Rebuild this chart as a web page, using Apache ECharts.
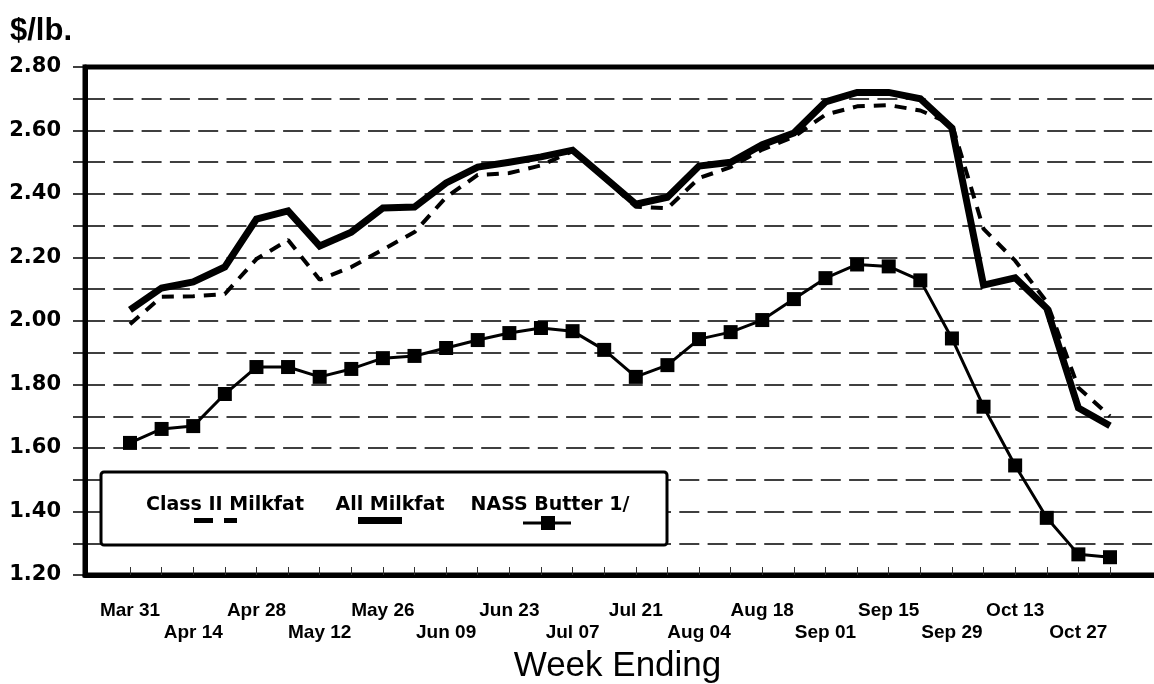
<!DOCTYPE html>
<html>
<head>
<meta charset="utf-8">
<script src="https://cdn.jsdelivr.net/npm/echarts@6/dist/echarts.min.js"></script>
<style>
  html, body { margin: 0; padding: 0; background: #fff; }
  #chart { width: 1154px; height: 684px; }
</style>
</head>
<body>
<div id="chart"></div>
<script>
// week ending dates (weekly)
const weeks = ['Mar 31', 'Apr 07', 'Apr 14', 'Apr 21', 'Apr 28', 'May 05', 'May 12', 'May 19',
  'May 26', 'Jun 02', 'Jun 09', 'Jun 16', 'Jun 23', 'Jun 30', 'Jul 07', 'Jul 14',
  'Jul 21', 'Jul 28', 'Aug 04', 'Aug 11', 'Aug 18', 'Aug 25', 'Sep 01', 'Sep 08',
  'Sep 15', 'Sep 22', 'Sep 29', 'Oct 06', 'Oct 13', 'Oct 20', 'Oct 27', 'Nov 03'];

const class2Milkfat = [1.99, 2.076, 2.078, 2.085, 2.195, 2.255, 2.13, 2.17,
  2.225, 2.28, 2.39, 2.46, 2.466, 2.49, 2.535, 2.45,
  2.36, 2.355, 2.45, 2.485, 2.54, 2.58, 2.65, 2.676,
  2.68, 2.663, 2.62, 2.29, 2.19, 2.06, 1.79, 1.70];

const allMilkfat = [2.035, 2.104, 2.123, 2.17, 2.321, 2.347, 2.236, 2.28,
  2.356, 2.359, 2.435, 2.485, 2.50, 2.517, 2.538, 2.453,
  2.368, 2.39, 2.488, 2.50, 2.555, 2.592, 2.69, 2.72,
  2.72, 2.70, 2.608, 2.113, 2.136, 2.04, 1.726, 1.67];

const nassButter = [1.616, 1.66, 1.669, 1.77, 1.855, 1.855, 1.824, 1.849,
  1.883, 1.89, 1.915, 1.94, 1.962, 1.978, 1.968, 1.909,
  1.824, 1.861, 1.943, 1.965, 2.003, 2.069, 2.135, 2.178,
  2.172, 2.128, 1.945, 1.73, 1.545, 1.38, 1.265, 1.256];

const seriesNames = ['Class II Milkfat', 'All Milkfat', 'NASS Butter 1/'];

// ticks on every week, labels on every other week
const tickIdx = weeks.map((w, i) => i);
const labelIdx = tickIdx.filter(i => i % 2 === 0 && i < 31);

const toPairs = arr => arr.map((v, i) => [i, v]);

const chart = echarts.init(document.getElementById('chart'));

const boldSans = 'Liberation Sans, Arial, sans-serif';
const wideBold = 'DejaVu Sans, sans-serif';

chart.setOption({
  backgroundColor: '#fff',
  animation: false,
  title: {
    text: '$/lb.',
    left: 5,
    top: 11,
    textStyle: { fontFamily: boldSans, fontWeight: 'bold', fontSize: 31, color: '#000' }
  },
  grid: {
    left: 85, top: 67, right: -8, bottom: 109,
    outerBoundsMode: 'none',
    containLabel: false,
    show: true, borderColor: '#000', borderWidth: 5, backgroundColor: 'transparent'
  },
  xAxis: {
    type: 'value',
    min: -1.4235,
    max: 32.645,
    name: 'Week Ending',
    nameLocation: 'middle',
    nameGap: 73,
    nameTextStyle: { fontFamily: boldSans, fontSize: 35, color: '#000', padding: [0, 12, 0, 0] },
    axisLine: { onZero: false, lineStyle: { color: '#000', width: 5 } },
    axisTick: {
      customValues: tickIdx,
      inside: true, length: 8,
      lineStyle: { color: '#333', width: 1 }
    },
    axisLabel: {
      customValues: labelIdx,
      margin: 25,
      fontFamily: boldSans, fontWeight: 'bold', fontSize: 19, color: '#000',
      lineHeight: 22,
      formatter: v => {
        const i = Math.round(v);
        return i % 4 === 0 ? weeks[i] + '\n ' : ' \n' + weeks[i];
      }
    },
    splitLine: { show: false }
  },
  yAxis: {
    type: 'value',
    min: 1.2, max: 2.8, interval: 0.1,
    axisLine: { show: true, onZero: false, lineStyle: { color: '#000', width: 5 } },
    axisTick: { show: true, length: 12, lineStyle: { color: '#000', width: 1.5 } },
    axisLabel: {
      margin: 24,
      fontFamily: wideBold, fontWeight: 'bold', fontSize: 21, color: '#000',
      formatter: v => (Math.round(v * 10) % 2 === 0 ? v.toFixed(2) : '')
    },
    splitLine: { show: true, lineStyle: { color: '#000', width: 1.5, type: [20, 8.3] } }
  },
  series: [
    {
      name: seriesNames[0], type: 'line', data: toPairs(class2Milkfat),
      symbol: 'none',
      lineStyle: { color: '#000', width: 4, type: [12, 9] }
    },
    {
      name: seriesNames[1], type: 'line', data: toPairs(allMilkfat),
      symbol: 'none',
      lineStyle: { color: '#000', width: 7, join: 'miter' }
    },
    {
      name: seriesNames[2], type: 'line', data: toPairs(nassButter),
      symbol: 'rect', symbolSize: 14,
      itemStyle: { color: '#000' },
      lineStyle: { color: '#000', width: 3 }
    }
  ],
  graphic: [
    {
      type: 'rect', z: 100,
      shape: { x: 101, y: 472, width: 566, height: 73, r: 3 },
      style: { fill: '#fff', stroke: '#000', lineWidth: 3 }
    },
    {
      type: 'text', z: 101, x: 225, y: 505,
      style: { text: seriesNames[0], fill: '#000', font: 'bold 19px DejaVu Sans', textAlign: 'center', textVerticalAlign: 'middle' }
    },
    {
      type: 'text', z: 101, x: 390, y: 505,
      style: { text: seriesNames[1], fill: '#000', font: 'bold 19px DejaVu Sans', textAlign: 'center', textVerticalAlign: 'middle' }
    },
    {
      type: 'text', z: 101, x: 550, y: 505,
      style: { text: seriesNames[2], fill: '#000', font: 'bold 19px DejaVu Sans', textAlign: 'center', textVerticalAlign: 'middle' }
    },
    {
      type: 'line', z: 101,
      shape: { x1: 194, y1: 520.5, x2: 237, y2: 520.5 },
      style: { stroke: '#000', lineWidth: 5, lineDash: [19, 11] }
    },
    {
      type: 'line', z: 101,
      shape: { x1: 358, y1: 520.5, x2: 402, y2: 520.5 },
      style: { stroke: '#000', lineWidth: 7 }
    },
    {
      type: 'line', z: 101,
      shape: { x1: 523, y1: 523, x2: 571, y2: 523 },
      style: { stroke: '#000', lineWidth: 3 }
    },
    {
      type: 'rect', z: 102,
      shape: { x: 541, y: 516, width: 14, height: 14 },
      style: { fill: '#000' }
    }
  ]
});
</script>
</body>
</html>
